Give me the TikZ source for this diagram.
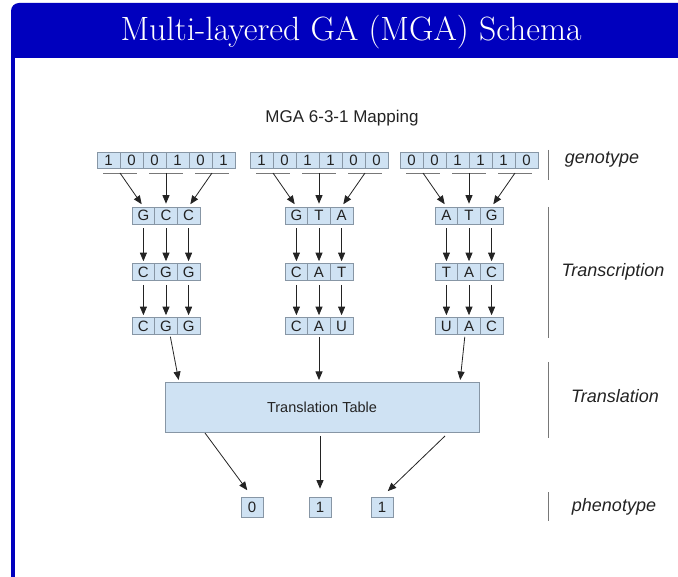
\documentclass[tikz,border=0pt]{standalone}
\usepackage{fontspec}
\setsansfont{Liberation Sans}
\usetikzlibrary{arrows.meta,calc}
\definecolor{beamerblue}{RGB}{0,0,190}
\definecolor{cellfill}{RGB}{207,226,243}
\definecolor{cellline}{RGB}{135,150,165}
\definecolor{sepgray}{RGB}{120,120,120}
\definecolor{inkgray}{RGB}{35,35,35}
\begin{document}
\begin{tikzpicture}[x=1pt,y=-1pt,
  cellbase/.style={draw=cellline,fill=cellfill,line width=0.6pt,inner sep=0pt,
    font=\sffamily\fontsize{15}{15}\selectfont,text=inkgray},
  gcell/.style={cellbase,minimum width=23pt,minimum height=16pt},
  ccell/.style={cellbase,minimum width=22.6pt,minimum height=17pt},
  pcell/.style={cellbase,minimum width=22pt,minimum height=20pt},
  tbox/.style={cellbase,minimum width=314pt,minimum height=50pt,font=\sffamily\fontsize{14.5}{14.5}\selectfont},
  arr/.style={draw=inkgray,line width=0.8pt,-{Triangle[length=8.5pt,width=7pt]}},
  uline/.style={draw=sepgray,line width=0.8pt},
  sepline/.style={draw=sepgray,line width=0.9pt},
  layerlabel/.style={font=\sffamily\itshape\fontsize{18}{18}\selectfont,text=inkgray}]
\useasboundingbox (0,0) rectangle (678,577);
% frame
\begin{scope}
  \clip (0,0) rectangle (678,58);
  \fill[beamerblue,rounded corners=8pt] (11,3) rectangle (700,100);
\end{scope}
\fill[beamerblue] (11,58) rectangle (15,577);
\node[text=white,font=\fontsize{33.7}{40}\selectfont] (title) at (351,32) {Multi-layered GA (MGA) Schema};
\node[font=\sffamily\fontsize{17}{17}\selectfont,text=inkgray] (sub) at (342,118) {MGA 6-3-1 Mapping};
% columns
\foreach \k/\cx/\bits/\ra/\rb/\rc in {1/166/{1,0,0,1,0,1}/{G,C,C}/{C,G,G}/{C,G,G},
    2/319/{1,0,1,1,0,0}/{G,T,A}/{C,A,T}/{C,A,U},
    3/469/{0,0,1,1,1,0}/{A,T,G}/{T,A,C}/{U,A,C}}{
  \foreach \b [count=\i] in \bits {\node[gcell] (g\k\i) at ({\cx+(\i-3.5)*23},160) {\b};}
  \foreach \c [count=\j] in \ra {\node[ccell] (a\k\j) at ({\cx+(\j-2)*22.6},215.5) {\c};}
  \foreach \c [count=\j] in \rb {\node[ccell] (b\k\j) at ({\cx+(\j-2)*22.6},272) {\c};}
  \foreach \c [count=\j] in \rc {\node[ccell] (c\k\j) at ({\cx+(\j-2)*22.6},326) {\c};}
  \foreach \p in {1,2,3} {
    \coordinate (u\k\p) at ({\cx+(2*\p-4)*23},173);
    \draw[uline] ([xshift=-17pt]u\k\p) -- ([xshift=17pt]u\k\p);
    \draw[arr,shorten >=3pt] (u\k\p) -- (a\k\p.north);
    \draw[arr,shorten <=4pt,shorten >=2pt] (a\k\p.south) -- (b\k\p.north);
    \draw[arr,shorten <=4pt,shorten >=2pt] (b\k\p.south) -- (c\k\p.north);
  }
}
% translation table
\node[tbox] (tt) at (322,407) {Translation Table};
\coordinate (ti1) at (179,382);
\coordinate (ti2) at (319,382);
\coordinate (ti3) at (460,382);
\draw[arr,shorten <=2pt,shorten >=2pt] ([xshift=4pt]c12.south) -- (ti1);
\draw[arr,shorten <=2pt,shorten >=2pt] (c22.south) -- (ti2);
\draw[arr,shorten <=2pt,shorten >=2pt] ([xshift=-4pt]c32.south) -- (ti3);
% phenotype
\node[pcell] (p1) at (252,507) {0};
\node[pcell] (p2) at (320,507) {1};
\node[pcell] (p3) at (382,507) {1};
\coordinate (to1) at (205,433);
\coordinate (to2) at (320,436);
\coordinate (to3) at (445,436);
\draw[arr,shorten >=8pt] (to1) -- (p1.north);
\draw[arr,shorten >=8pt] (to2) -- (p2.north);
\draw[arr,shorten >=8pt] (to3) -- (p3.north);
% layer separators and labels
\draw[sepline] (548,150) -- (548,180);
\draw[sepline] (548,207) -- (548,338);
\draw[sepline] (548,362) -- (548,438);
\draw[sepline] (548,492) -- (548,521);
\node[layerlabel] (lgen) at (602,160) {genotype};
\node[layerlabel] (ltr) at (613,272) {Transcription};
\node[layerlabel] (ltl) at (615,396) {Translation};
\node[layerlabel] (lph) at (614,507) {phenotype};
\end{tikzpicture}
\end{document}
